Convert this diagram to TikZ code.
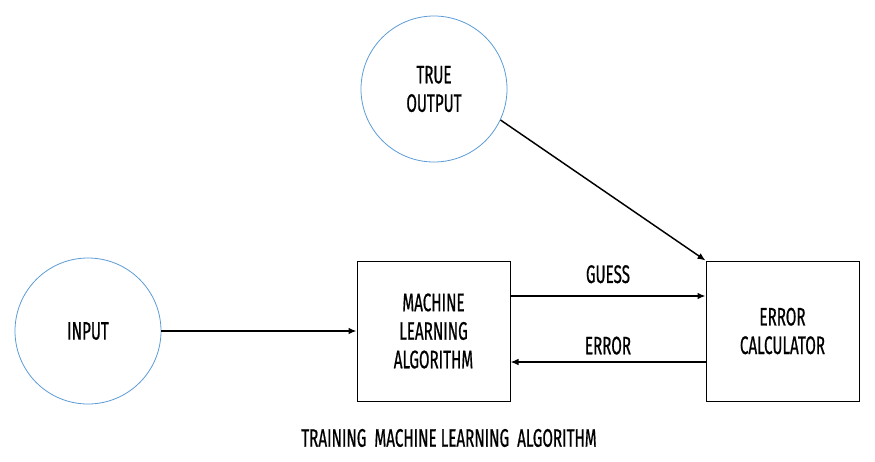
\documentclass[tikz,border=0pt]{standalone}
\usepackage{fontspec}
\setmainfont{Fira Sans}[FakeStretch=0.6, FakeBold=0.6]
\usetikzlibrary{arrows.meta}
\definecolor{ringblue}{RGB}{91,155,213}

\begin{document}
\begin{tikzpicture}[x=0.75pt, y=-0.75pt]
		\tikzset{rd/.style={circle, draw=ringblue, line width=0.6pt, minimum size=109.5pt, inner sep=0pt, align=center, font=\fontsize{19}{21.4}\selectfont},
			bx/.style={rectangle, draw=black, line width=0.75pt, minimum width=114.75pt, minimum height=105pt, inner sep=0pt, align=center, font=\fontsize{19}{21.4}\selectfont},
			lb/.style={inner sep=0pt, font=\fontsize{19}{21.4}\selectfont},
			ar/.style={-{Latex[length=6pt, width=5pt]}, line width=1.1pt}};

		\useasboundingbox (0, 0) rectangle (875, 461);

		\node[rd] (input) at (88, 331) {INPUT};
		\node[rd] (tout) at (434, 89) {TRUE\\OUTPUT};
		\node[bx] (mla) at (433.5, 331) {MACHINE\\LEARNING\\ALGORITHM};
		\node[bx] (err) at (782.5, 331) {ERROR\\CALCULATOR};

		\draw[ar] (input) to (mla);
		\draw[ar] (tout.-25) to (err.north west);

		\draw[ar] (mla.east |- 0, 296) to node[lb, above=9pt] (guess) {GUESS} (err.west |- 0, 296);
		\draw[ar] (err.west |- 0, 362) to node[lb, above=5pt] (error) {ERROR} (mla.east |- 0, 362);

		\node[lb, font=\fontsize{19}{21}\selectfont] (cap) at (449, 438) {TRAINING\ \ MACHINE LEARNING\ \ ALGORITHM};

	\end{tikzpicture}
\end{document}
